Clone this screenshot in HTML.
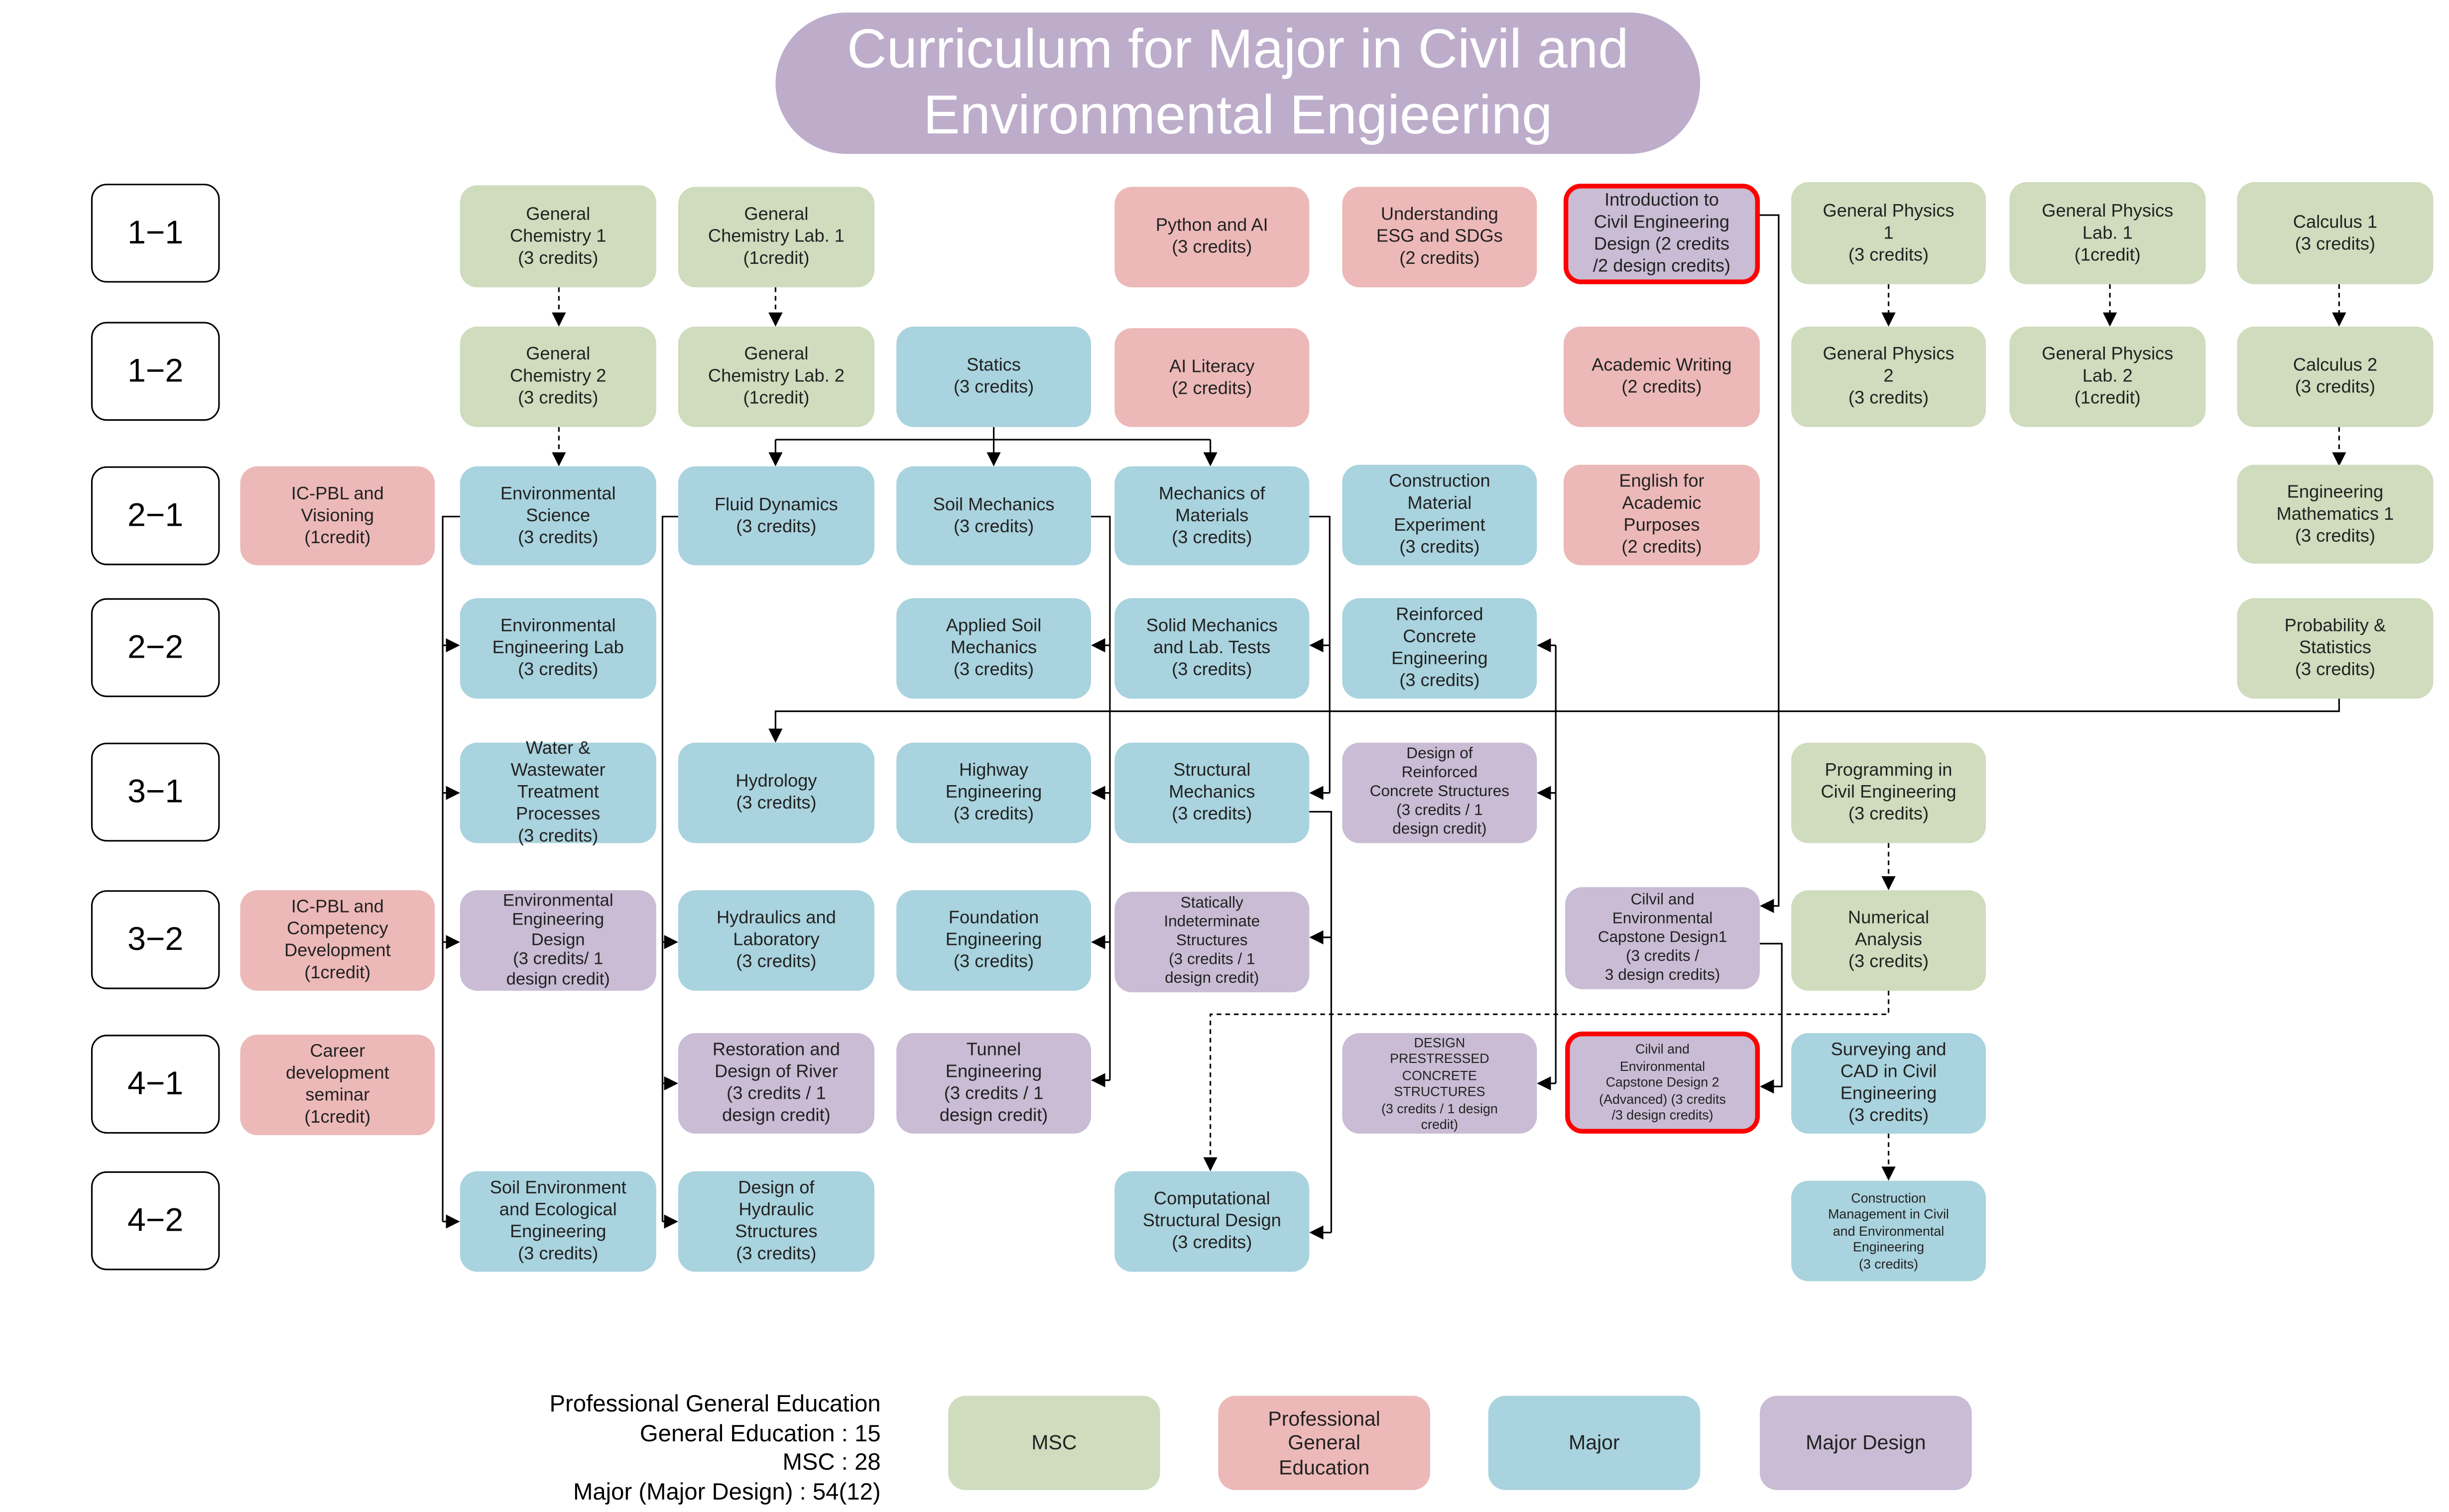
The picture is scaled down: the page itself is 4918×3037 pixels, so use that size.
<!DOCTYPE html>
<html><head><meta charset="utf-8"><style>
html,body{margin:0;padding:0;background:#fff;width:4918px;height:3037px;overflow:hidden}
#w{position:absolute;left:0;top:0;width:1560px;height:963px;transform:scale(3.15256,3.1537);transform-origin:0 0;font-family:"Liberation Sans","Noto Sans CJK KR",sans-serif}
.n{position:absolute;border-radius:11px;display:flex;align-items:center;justify-content:center;text-align:center;font-size:11.5px;line-height:14px;color:#222;box-sizing:border-box}
.g{background:#cfdcbd}.p{background:#ecb9b8}.b{background:#a9d3de}.d{background:#c9bcd4}
.r{border:3px solid #f00}
.s{font-size:10px;line-height:12px}
.t{font-size:8.5px;line-height:10.5px}
.lab{position:absolute;left:58px;width:82px;height:63px;border:1.5px solid #000;border-radius:10px;box-sizing:border-box;display:flex;align-items:center;justify-content:center;font-size:21px;color:#000}
svg{position:absolute;left:0;top:0}
</style></head><body><div id="w">
<div style="position:absolute;left:494px;top:8px;width:589px;height:90px;border-radius:45px;background:#bdadcb;color:#fff;font-size:35px;line-height:42px;display:flex;align-items:center;justify-content:center;text-align:center">Curriculum for Major in Civil and<br>Environmental Engieering</div>

<div class="lab" style="top:117px">1−1</div>
<div class="lab" style="top:205px">1−2</div>
<div class="lab" style="top:297px">2−1</div>
<div class="lab" style="top:381px">2−2</div>
<div class="lab" style="top:473px">3−1</div>
<div class="lab" style="top:567px">3−2</div>
<div class="lab" style="top:659px">4−1</div>
<div class="lab" style="top:746px">4−2</div>

<svg width="1560" height="963" viewBox="0 0 1560 963">
<defs>
<marker id="a" markerUnits="userSpaceOnUse" markerWidth="9" markerHeight="9" refX="8" refY="4.5" orient="auto"><path d="M0,0 L9,4.5 L0,9 z" fill="#000"/></marker>
</defs>
<g stroke="#000" stroke-width="1" fill="none">
<g stroke-dasharray="3,2.5" marker-end="url(#a)">
<path d="M356,183V207"/><path d="M494,183V207"/><path d="M1203,181V207"/><path d="M1344,181V207"/><path d="M1490,181V207"/>
<path d="M356,272V296"/><path d="M1490,272V296"/><path d="M1203,537V566"/><path d="M1203,722V751"/>
<path d="M1203,631V646H771V745"/>
</g>
<path d="M633,272V280"/><path d="M494,280H771"/>
<path d="M494,280V296" marker-end="url(#a)"/><path d="M633,280V296" marker-end="url(#a)"/><path d="M771,280V296" marker-end="url(#a)"/>
<path d="M293,329H282V778"/>
<path d="M282,411H292" marker-end="url(#a)"/><path d="M282,505H292" marker-end="url(#a)"/><path d="M282,600H292" marker-end="url(#a)"/><path d="M282,778H292" marker-end="url(#a)"/>
<path d="M432,329H422V778"/>
<path d="M422,600H431" marker-end="url(#a)"/><path d="M422,690H431" marker-end="url(#a)"/><path d="M422,778H431" marker-end="url(#a)"/>
<path d="M695,329H707V688"/>
<path d="M707,411H696" marker-end="url(#a)"/><path d="M707,505H696" marker-end="url(#a)"/><path d="M707,600H696" marker-end="url(#a)"/><path d="M707,688H696" marker-end="url(#a)"/>
<path d="M834,329H847V505"/>
<path d="M847,411H835" marker-end="url(#a)"/><path d="M847,505H835" marker-end="url(#a)"/>
<path d="M834,517H848V785"/>
<path d="M848,597H835" marker-end="url(#a)"/><path d="M848,785H835" marker-end="url(#a)"/>
<path d="M991,411V690"/>
<path d="M991,411H980" marker-end="url(#a)"/><path d="M991,505H980" marker-end="url(#a)"/><path d="M991,690H980" marker-end="url(#a)"/>
<path d="M1121,137H1133V577H1122" marker-end="url(#a)"/>
<path d="M1121,601H1135V692H1122" marker-end="url(#a)"/>
<path d="M1490,445V453H494V472" marker-end="url(#a)"/>
</g>
</svg>

<div class="n g" style="left:293px;top:118px;width:125px;height:65px">General<br>Chemistry 1<br>(3 credits)</div>
<div class="n g" style="left:432px;top:119px;width:125px;height:64px">General<br>Chemistry Lab. 1<br>(1credit)</div>
<div class="n p" style="left:710px;top:119px;width:124px;height:64px">Python and AI<br>(3 credits)</div>
<div class="n p" style="left:855px;top:119px;width:124px;height:64px">Understanding<br>ESG and SDGs<br>(2 credits)</div>
<div class="n d r" style="left:996px;top:117px;width:125px;height:64px">Introduction to<br>Civil Engineering<br>Design (2 credits<br>/2 design credits)</div>
<div class="n g" style="left:1141px;top:116px;width:124px;height:65px">General Physics<br>1<br>(3 credits)</div>
<div class="n g" style="left:1280px;top:116px;width:125px;height:65px">General Physics<br>Lab. 1<br>(1credit)</div>
<div class="n g" style="left:1425px;top:116px;width:125px;height:65px">Calculus 1<br>(3 credits)</div>

<div class="n g" style="left:293px;top:208px;width:125px;height:64px">General<br>Chemistry 2<br>(3 credits)</div>
<div class="n g" style="left:432px;top:208px;width:125px;height:64px">General<br>Chemistry Lab. 2<br>(1credit)</div>
<div class="n b" style="left:571px;top:208px;width:124px;height:64px">Statics<br>(3 credits)</div>
<div class="n p" style="left:710px;top:209px;width:124px;height:63px">AI Literacy<br>(2 credits)</div>
<div class="n p" style="left:996px;top:208px;width:125px;height:64px">Academic Writing<br>(2 credits)</div>
<div class="n g" style="left:1141px;top:208px;width:124px;height:64px">General Physics<br>2<br>(3 credits)</div>
<div class="n g" style="left:1280px;top:208px;width:125px;height:64px">General Physics<br>Lab. 2<br>(1credit)</div>
<div class="n g" style="left:1425px;top:208px;width:125px;height:64px">Calculus 2<br>(3 credits)</div>

<div class="n p" style="left:153px;top:297px;width:124px;height:63px">IC-PBL and<br>Visioning<br>(1credit)</div>
<div class="n b" style="left:293px;top:297px;width:125px;height:63px">Environmental<br>Science<br>(3 credits)</div>
<div class="n b" style="left:432px;top:297px;width:125px;height:63px">Fluid Dynamics<br>(3 credits)</div>
<div class="n b" style="left:571px;top:297px;width:124px;height:63px">Soil Mechanics<br>(3 credits)</div>
<div class="n b" style="left:710px;top:297px;width:124px;height:63px">Mechanics of<br>Materials<br>(3 credits)</div>
<div class="n b" style="left:855px;top:296px;width:124px;height:64px">Construction<br>Material<br>Experiment<br>(3 credits)</div>
<div class="n p" style="left:996px;top:296px;width:125px;height:64px">English for<br>Academic<br>Purposes<br>(2 credits)</div>
<div class="n g" style="left:1425px;top:296px;width:125px;height:63px">Engineering<br>Mathematics 1<br>(3 credits)</div>

<div class="n b" style="left:293px;top:381px;width:125px;height:64px">Environmental<br>Engineering Lab<br>(3 credits)</div>
<div class="n b" style="left:571px;top:381px;width:124px;height:64px">Applied Soil<br>Mechanics<br>(3 credits)</div>
<div class="n b" style="left:710px;top:381px;width:124px;height:64px">Solid Mechanics<br>and Lab. Tests<br>(3 credits)</div>
<div class="n b" style="left:855px;top:381px;width:124px;height:64px">Reinforced<br>Concrete<br>Engineering<br>(3 credits)</div>
<div class="n g" style="left:1425px;top:381px;width:125px;height:64px">Probability &amp;<br>Statistics<br>(3 credits)</div>

<div class="n b" style="left:293px;top:473px;width:125px;height:64px">Water &amp;<br>Wastewater<br>Treatment<br>Processes<br>(3 credits)</div>
<div class="n b" style="left:432px;top:473px;width:125px;height:64px">Hydrology<br>(3 credits)</div>
<div class="n b" style="left:571px;top:473px;width:124px;height:64px">Highway<br>Engineering<br>(3 credits)</div>
<div class="n b" style="left:710px;top:473px;width:124px;height:64px">Structural<br>Mechanics<br>(3 credits)</div>
<div class="n d s" style="left:855px;top:473px;width:124px;height:64px">Design of<br>Reinforced<br>Concrete Structures<br>(3 credits / 1<br>design credit)</div>
<div class="n g" style="left:1141px;top:473px;width:124px;height:64px">Programming in<br>Civil Engineering<br>(3 credits)</div>

<div class="n p" style="left:153px;top:567px;width:124px;height:64px">IC-PBL and<br>Competency<br>Development<br>(1credit)</div>
<div class="n d" style="left:293px;top:567px;width:125px;height:64px;font-size:11px;line-height:12.5px">Environmental<br>Engineering<br>Design<br>(3 credits/ 1<br>design credit)</div>
<div class="n b" style="left:432px;top:567px;width:125px;height:64px">Hydraulics and<br>Laboratory<br>(3 credits)</div>
<div class="n b" style="left:571px;top:567px;width:124px;height:64px">Foundation<br>Engineering<br>(3 credits)</div>
<div class="n d s" style="left:710px;top:568px;width:124px;height:64px">Statically<br>Indeterminate<br>Structures<br>(3 credits / 1<br>design credit)</div>
<div class="n d s" style="left:997px;top:565px;width:124px;height:65px">Cilvil and<br>Environmental<br>Capstone Design1<br>(3 credits /<br>3 design credits)</div>
<div class="n g" style="left:1141px;top:567px;width:124px;height:64px">Numerical<br>Analysis<br>(3 credits)</div>

<div class="n p" style="left:153px;top:659px;width:124px;height:64px">Career<br>development<br>seminar<br>(1credit)</div>
<div class="n d" style="left:432px;top:658px;width:125px;height:64px">Restoration and<br>Design of River<br>(3 credits / 1<br>design credit)</div>
<div class="n d" style="left:571px;top:658px;width:124px;height:64px">Tunnel<br>Engineering<br>(3 credits / 1<br>design credit)</div>
<div class="n d t" style="left:855px;top:658px;width:124px;height:64px">DESIGN<br>PRESTRESSED<br>CONCRETE<br>STRUCTURES<br>(3 credits / 1 design<br>credit)</div>
<div class="n d r t" style="left:997px;top:657px;width:124px;height:65px">Cilvil and<br>Environmental<br>Capstone Design 2<br>(Advanced) (3 credits<br>/3 design credits)</div>
<div class="n b" style="left:1141px;top:658px;width:124px;height:64px">Surveying and<br>CAD in Civil<br>Engineering<br>(3 credits)</div>

<div class="n b" style="left:293px;top:746px;width:125px;height:64px">Soil Environment<br>and Ecological<br>Engineering<br>(3 credits)</div>
<div class="n b" style="left:432px;top:746px;width:125px;height:64px">Design of<br>Hydraulic<br>Structures<br>(3 credits)</div>
<div class="n b" style="left:710px;top:746px;width:124px;height:64px">Computational<br>Structural Design<br>(3 credits)</div>
<div class="n b t" style="left:1141px;top:752px;width:124px;height:64px">Construction<br>Management in Civil<br>and Environmental<br>Engineering<br>(3 credits)</div>

<div style="position:absolute;left:260px;top:886px;width:301px;text-align:right;font-size:15px;line-height:18.5px;color:#000">Professional General Education<br>General Education : 15<br>MSC : 28<br>Major (Major Design) : 54(12)</div>
<div class="n g" style="left:604px;top:889px;width:135px;height:60px;font-size:13px">MSC</div>
<div class="n p" style="left:776px;top:889px;width:135px;height:60px;font-size:13px;line-height:15.5px">Professional<br>General<br>Education</div>
<div class="n b" style="left:948px;top:889px;width:135px;height:60px;font-size:13px">Major</div>
<div class="n d" style="left:1121px;top:889px;width:135px;height:60px;font-size:13px">Major Design</div>
</div></body></html>
